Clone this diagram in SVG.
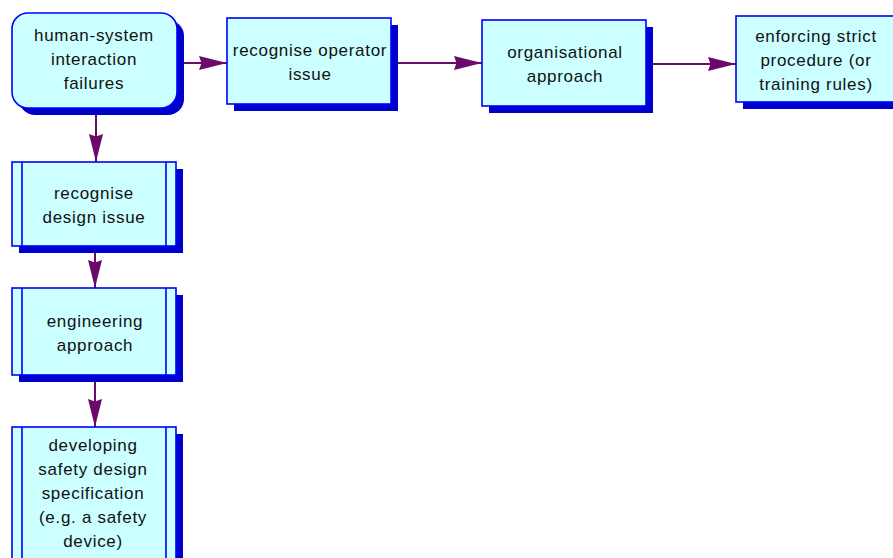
<svg xmlns="http://www.w3.org/2000/svg" width="893" height="558" viewBox="0 0 893 558">
  <defs>
    <style>
      .shadow { fill: #0000cc; stroke: none; }
      .box { fill: #ccffff; stroke: #0000ff; stroke-width: 1.6; }
      .bar { stroke: #0000ff; stroke-width: 1.6; fill: none; }
      .label { font-family: "Liberation Sans", Arial, sans-serif; font-size: 17px; letter-spacing: 0.7px; fill: #111111; text-anchor: middle; }
      .link { stroke: #6b0a6b; stroke-width: 2; fill: none; marker-end: url(#head); }
    </style>
    <marker id="head" viewBox="0 0 28 14" refX="28" refY="7" markerWidth="28" markerHeight="14" markerUnits="userSpaceOnUse" orient="auto">
      <path d="M0,0 L28,7 L0,14 L2.5,7 Z" fill="#6b0a6b"/>
    </marker>
  </defs>

  <rect width="893" height="558" fill="#ffffff"/>

  <!-- connectors -->
  <g id="connectors">
    <path class="link" d="M184,63 L227,63"/>
    <path class="link" d="M398,63 L482,63"/>
    <path class="link" d="M653,64 L736,64"/>
    <path class="link" d="M96,115 L96,162"/>
    <path class="link" d="M95,253 L95,288"/>
    <path class="link" d="M95,382 L95,427"/>
  </g>

  <!-- start: rounded terminator -->
  <g id="n-failures">
    <rect class="shadow" x="19" y="20" width="165" height="95" rx="16"/>
    <rect class="box" x="12" y="13" width="165" height="95" rx="16"/>
    <text class="label" x="94" y="41">human-system</text>
    <text class="label" x="94" y="65">interaction</text>
    <text class="label" x="94" y="89">failures</text>
  </g>

  <g id="n-operator">
    <rect class="shadow" x="234" y="25" width="164" height="86"/>
    <rect class="box" x="227" y="18" width="164" height="86"/>
    <text class="label" x="310" y="56">recognise operator</text>
    <text class="label" x="310" y="80">issue</text>
  </g>

  <g id="n-organisational">
    <rect class="shadow" x="489" y="27" width="164" height="86"/>
    <rect class="box" x="482" y="20" width="164" height="86"/>
    <text class="label" x="565" y="58">organisational</text>
    <text class="label" x="565" y="82">approach</text>
  </g>

  <g id="n-enforcing">
    <rect class="shadow" x="743" y="23" width="164" height="86"/>
    <rect class="box" x="736" y="16" width="164" height="86"/>
    <text class="label" x="816" y="42">enforcing strict</text>
    <text class="label" x="816" y="66">procedure (or</text>
    <text class="label" x="816" y="90">training rules)</text>
  </g>

  <!-- predefined-process boxes (double side bars) -->
  <g id="n-design">
    <rect class="shadow" x="19" y="169" width="164" height="84"/>
    <rect class="box" x="12" y="162" width="164" height="84"/>
    <path class="bar" d="M22,162 V246 M166,162 V246"/>
    <text class="label" x="94" y="199">recognise</text>
    <text class="label" x="94" y="223">design issue</text>
  </g>

  <g id="n-engineering">
    <rect class="shadow" x="19" y="295" width="164" height="87"/>
    <rect class="box" x="12" y="288" width="164" height="87"/>
    <path class="bar" d="M22,288 V375 M166,288 V375"/>
    <text class="label" x="95" y="327">engineering</text>
    <text class="label" x="95" y="351">approach</text>
  </g>

  <g id="n-specification">
    <rect class="shadow" x="19" y="434" width="164" height="150"/>
    <rect class="box" x="12" y="427" width="164" height="150"/>
    <path class="bar" d="M22,427 V577 M166,427 V577"/>
    <text class="label" x="93" y="451">developing</text>
    <text class="label" x="93" y="475">safety design</text>
    <text class="label" x="93" y="499">specification</text>
    <text class="label" x="93" y="523">(e.g. a safety</text>
    <text class="label" x="93" y="547">device)</text>
  </g>
</svg>
